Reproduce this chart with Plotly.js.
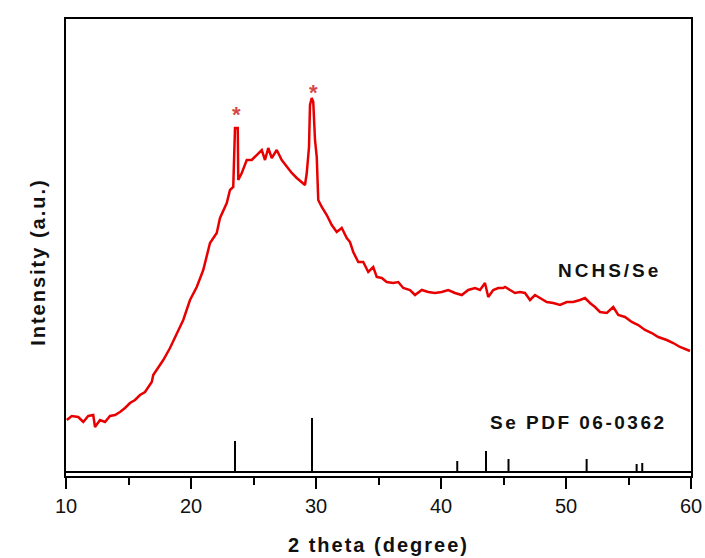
<!DOCTYPE html>
<html>
<head>
<meta charset="utf-8">
<script src="https://cdn.plot.ly/plotly-3.0.1.min.js"></script>
<style>html,body{margin:0;padding:0;background:#fff;}#chart{width:705px;height:558px;}</style>
</head>
<body>
<div id="chart"></div>
<script>
// NCHS/Se XRD pattern (2 theta in degrees, intensity in arbitrary units)
const twoTheta = [10.06,10.46,10.98,11.38,11.78,12.18,12.32,12.72,13.12,13.52,13.92,14.32,14.72,15.12,15.52,15.92,16.32,16.86,16.98,17.78,18.32,18.86,19.38,19.92,20.46,20.98,21.52,22.06,22.32,22.86,23.12,23.38,23.52,23.74,23.78,24.06,24.46,24.86,25.26,25.66,25.92,26.18,26.46,26.86,27.26,27.66,28.06,28.46,28.86,29.12,29.26,29.44,29.52,29.66,29.78,29.92,30.06,30.18,30.46,30.86,31.26,31.66,32.06,32.46,32.72,32.98,33.38,33.78,34.18,34.58,34.86,35.26,35.66,36.18,36.58,36.98,37.52,37.92,38.46,38.98,39.52,40.06,40.58,41.12,41.66,42.18,42.72,43.12,43.52,43.78,44.18,44.58,44.98,45.12,45.52,45.92,46.32,46.72,47.12,47.52,47.92,48.46,48.98,49.52,50.06,50.58,51.12,51.52,51.92,52.32,52.72,53.26,53.78,54.18,54.72,55.26,55.78,56.32,56.86,57.38,58.06,58.58,59.12,59.66,59.92];
const intensity = [56,60,59,54,60,61,49,56,54,60,61,64,68,73,76,81,84,94,101,116,128,143,156,176,189,206,233,243,258,273,286,289,348,348,296,303,316,316,321,326,316,328,318,326,316,309,303,298,294,291,303,329,371,378,374,336,319,276,269,261,251,244,248,238,234,224,214,214,204,209,199,198,194,193,194,188,186,181,186,184,183,184,186,183,181,186,188,186,193,179,186,188,188,189,186,183,184,183,176,181,178,174,173,171,174,174,176,178,173,169,164,163,169,161,159,154,151,146,143,139,136,133,129,126,125];

// Se reference pattern (PDF 06-0362)
const refPos = [23.52,29.68,41.3,43.6,45.4,51.65,55.65,56.1];
const refHeight = [31,54,11,21,13,13,8,9];
const refBase = 4;

const xTickVals = [10,20,30,40,50,60];
const xTickText = ['10','20','30','40','50','60'];
const starPos = [23.6,29.76];
const starHeight = [362,384];

const stickX = [], stickY = [];
refPos.forEach((p,i)=>{stickX.push(p,p,null);stickY.push(refBase,refBase+refHeight[i],null);});

const traces = [
  {x: twoTheta, y: intensity, type:'scatter', mode:'lines',
   line:{color:'rgb(232,0,0)', width:2.5}, hoverinfo:'skip'},
  {x:[10,60], y:[refBase,refBase], type:'scatter', mode:'lines',
   line:{color:'#000', width:2}, hoverinfo:'skip'},
  {x: stickX, y: stickY, type:'scatter', mode:'lines',
   line:{color:'#000', width:2}, hoverinfo:'skip'}
];

const annotations = starPos.map((p,i)=>({x:p, y:starHeight[i], xref:'x', yref:'y', text:'*', showarrow:false,
  font:{family:'Liberation Sans, Arial, sans-serif', size:22, color:'rgb(214,72,72)', weight:'bold'}}));
annotations.push({x:53.5, y:206, xref:'x', yref:'y', text:'<span style="letter-spacing:3px">NCHS/Se</span>', showarrow:false,
  font:{family:'Liberation Sans, Arial, sans-serif', size:19, color:'#111', weight:'bold'}});
annotations.push({x:50.96, y:54, xref:'x', yref:'y', text:'<span style="letter-spacing:2.5px">Se PDF 06-0362</span>', showarrow:false,
  font:{family:'Liberation Sans, Arial, sans-serif', size:19, color:'#111', weight:'bold'}});
annotations.push({x:-0.066, y:0.468, xref:'paper', yref:'paper', textangle:-90, showarrow:false,
  text:'<b><span style="letter-spacing:2px">Intensity (a.u.)</span></b>',
  font:{family:'Liberation Sans, Arial, sans-serif', size:20, color:'#111'}});

const layout = {
  width:705, height:558,
  margin:{l:66, r:14, t:19, b:82},
  paper_bgcolor:'#fff', plot_bgcolor:'#fff',
  showlegend:false,
  xaxis:{range:[10,60], showgrid:false, zeroline:false, showline:true, mirror:true,
    linecolor:'#000', linewidth:2, ticks:'outside', ticklen:11, tickwidth:2, tickcolor:'#000',
    tickvals:xTickVals, ticktext:xTickText,
    minor:{dtick:5, ticks:'outside', ticklen:7, tickwidth:2, tickcolor:'#000'},
    tickfont:{family:'Liberation Sans, Arial, sans-serif', size:20, color:'#111'},
    title:{text:'<b><span style="letter-spacing:2px">2 theta (degree)</span></b>', font:{family:'Liberation Sans, Arial, sans-serif', size:20, color:'#111'}, standoff:22}},
  yaxis:{range:[0,457], showgrid:false, zeroline:false, showline:true, mirror:true,
    linecolor:'#000', linewidth:2, ticks:'', showticklabels:false},
  annotations: annotations
};

Plotly.newPlot('chart', traces, layout, {displayModeBar:false, staticPlot:true});
</script>
</body>
</html>
